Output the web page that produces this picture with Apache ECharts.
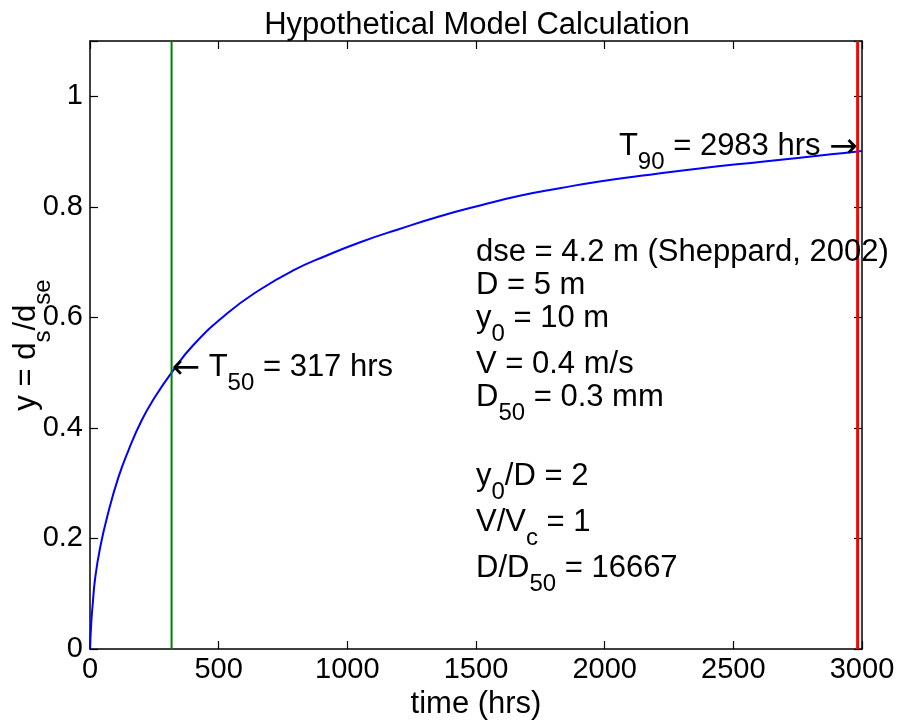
<!DOCTYPE html>
<html>
<head>
<meta charset="utf-8">
<title>Hypothetical Model Calculation</title>
<script src="https://cdn.jsdelivr.net/npm/echarts@6/dist/echarts.min.js"></script>
<style>
  html, body { margin: 0; padding: 0; background: #fff; }
  #chart { width: 900px; height: 724px; }
</style>
</head>
<body>
<div id="chart"></div>
<script>
// Scour development curve: time (hrs) against relative scour depth y = ds/dse
const timeHrs = [0, 5, 10, 20, 40, 70, 110, 150, 200, 250, 317, 400, 530, 660, 790, 920,
                 1050, 1200, 1360, 1520, 1670, 1830, 1980, 2140, 2360, 2620, 2880, 2983, 3000];
const scourRatio = [0, 0.048, 0.078, 0.128, 0.185, 0.245, 0.31, 0.36, 0.413, 0.454, 0.5, 0.549, 0.606, 0.65, 0.685, 0.712,
                    0.736, 0.7595, 0.783, 0.803, 0.82, 0.834, 0.846, 0.856, 0.869, 0.882, 0.895, 0.9, 0.9008];

// Characteristic times
const t50 = 317, y50 = 0.5;
const t90 = 2983, y90 = 0.9;

// Axis extents
const xMax = 3000, xStep = 500;
const yMax = 1.1, yStep = 0.2;

// Parameter block placement (data coordinates of its top-left corner)
const paramAnchor = [1500, 0.746];

const FONT = '"Liberation Sans", Arial, Helvetica, sans-serif';
const BLACK = '#000';

// Rich-text styles: normal text, lowered subscripts, arrows
const rich = {
  m: { fontFamily: FONT, fontSize: 31, lineHeight: 33, verticalAlign: 'top', color: BLACK },
  s: { fontFamily: FONT, fontSize: 24, lineHeight: 46, verticalAlign: 'top', padding: [20, 0, 0, 0], color: BLACK },
  a: { fontFamily: '"DejaVu Sans", sans-serif', fontSize: 34, lineHeight: 33, verticalAlign: 'top', padding: [1, 0, 0, 0], color: BLACK }
};

const paramText = [
  '{m|dse = 4.2 m (Sheppard, 2002)}',
  '{m|D = 5 m}',
  '{m|y}{s|0}{m| = 10 m}',
  '{m|V = 0.4 m/s}',
  '{m|D}{s|50}{m| = 0.3 mm}',
  '',
  '{m|y}{s|0}{m|/D = 2}',
  '{m|V/V}{s|c}{m| = 1}',
  '{m|D/D}{s|50}{m| = 16667}'
].join('\n');

const chart = echarts.init(document.getElementById('chart'), null, { renderer: 'canvas' });

const axisLineStyle = { color: BLACK, width: 1.5 };
const tickStyle = { inside: true, length: 8, lineStyle: { color: BLACK, width: 1.2 } };

function yLabel(v) {
  if (Math.abs(v - yMax) < 1e-9) return '';
  return String(+v.toFixed(1));
}

const option = {
  animation: false,
  backgroundColor: '#fff',
  textStyle: { fontFamily: FONT, color: BLACK },
  title: {
    text: 'Hypothetical Model Calculation',
    left: 472,
    top: 5,
    textAlign: 'center',
    textStyle: { fontFamily: FONT, fontSize: 31, fontWeight: 'normal', color: BLACK }
  },
  grid: { left: 90, right: 38, top: 41, bottom: 75, containLabel: false, outerBoundsMode: 'none' },
  xAxis: [
    {
      type: 'value', min: 0, max: xMax, interval: xStep, position: 'bottom',
      axisLine: { show: true, onZero: false, lineStyle: axisLineStyle },
      axisTick: tickStyle,
      splitLine: { show: false },
      axisLabel: { fontFamily: FONT, fontSize: 29, color: BLACK, margin: 6, formatter: v => String(v) },
      name: 'time (hrs)', nameLocation: 'middle', nameGap: 36,
      nameTextStyle: { fontFamily: FONT, fontSize: 31, color: BLACK }
    },
    {
      type: 'value', min: 0, max: xMax, interval: xStep, position: 'top',
      axisLine: { show: true, onZero: false, lineStyle: axisLineStyle },
      axisTick: tickStyle,
      splitLine: { show: false },
      axisLabel: { show: false }
    }
  ],
  yAxis: [
    {
      type: 'value', min: 0, max: yMax, interval: yStep, position: 'left',
      axisLine: { show: true, onZero: false, lineStyle: axisLineStyle },
      axisTick: tickStyle,
      splitLine: { show: false },
      axisLabel: { fontFamily: FONT, fontSize: 29, color: BLACK, margin: 7, formatter: yLabel },
      name: '{m|y = d}{s|s}{m|/d}{s|se}', nameLocation: 'middle', nameRotate: 90, nameGap: 33,
      nameMoveOverlap: false,
      nameTextStyle: { fontFamily: FONT, fontSize: 31, color: BLACK, rich: rich }
    },
    {
      type: 'value', min: 0, max: yMax, interval: yStep, position: 'right',
      axisLine: { show: true, onZero: false, lineStyle: axisLineStyle },
      axisTick: tickStyle,
      splitLine: { show: false },
      axisLabel: { show: false }
    }
  ],
  series: [
    {
      name: 'y',
      type: 'line',
      xAxisIndex: 0, yAxisIndex: 0,
      data: timeHrs.map((t, i) => [t, scourRatio[i]]),
      showSymbol: false,
      smooth: 0.5,
      lineStyle: { color: '#0000ff', width: 2 },
      itemStyle: { color: '#0000ff' },
      z: 3,
      markPoint: {
        symbol: 'circle',
        symbolSize: 0,
        silent: true,
        data: [
          {
            coord: [t50, y50],
            label: {
              show: true, position: [0, 0], align: 'left', verticalAlign: 'middle', offset: [0, 2],
              fontFamily: FONT, fontSize: 31, lineHeight: 33, color: BLACK, rich: rich,
              formatter: '{a|\u2190}{m| T}{s|50}{m| = ' + t50 + ' hrs}'
            }
          },
          {
            coord: [t90, y90],
            label: {
              show: true, position: [0, 0], align: 'right', verticalAlign: 'middle', offset: [0, 2],
              fontFamily: FONT, fontSize: 31, lineHeight: 33, color: BLACK, rich: rich,
              formatter: '{m|T}{s|90}{m| = ' + t90 + ' hrs }{a|\u2192}'
            }
          },
          {
            coord: paramAnchor,
            label: {
              show: true, position: [0, 0], align: 'left', verticalAlign: 'top',
              fontFamily: FONT, fontSize: 31, lineHeight: 33, color: BLACK, rich: rich,
              formatter: paramText
            }
          }
        ]
      }
    },
    {
      name: 'T50',
      type: 'line',
      data: [[t50, 0], [t50, yMax]],
      showSymbol: false,
      lineStyle: { color: '#008000', width: 2 },
      itemStyle: { color: '#008000' },
      z: 4
    },
    {
      name: 'T90',
      type: 'line',
      data: [[t90, 0], [t90, yMax]],
      showSymbol: false,
      lineStyle: { color: '#ff0000', width: 3 },
      itemStyle: { color: '#ff0000' },
      z: 4
    }
  ]
};

chart.setOption(option);
</script>
</body>
</html>
